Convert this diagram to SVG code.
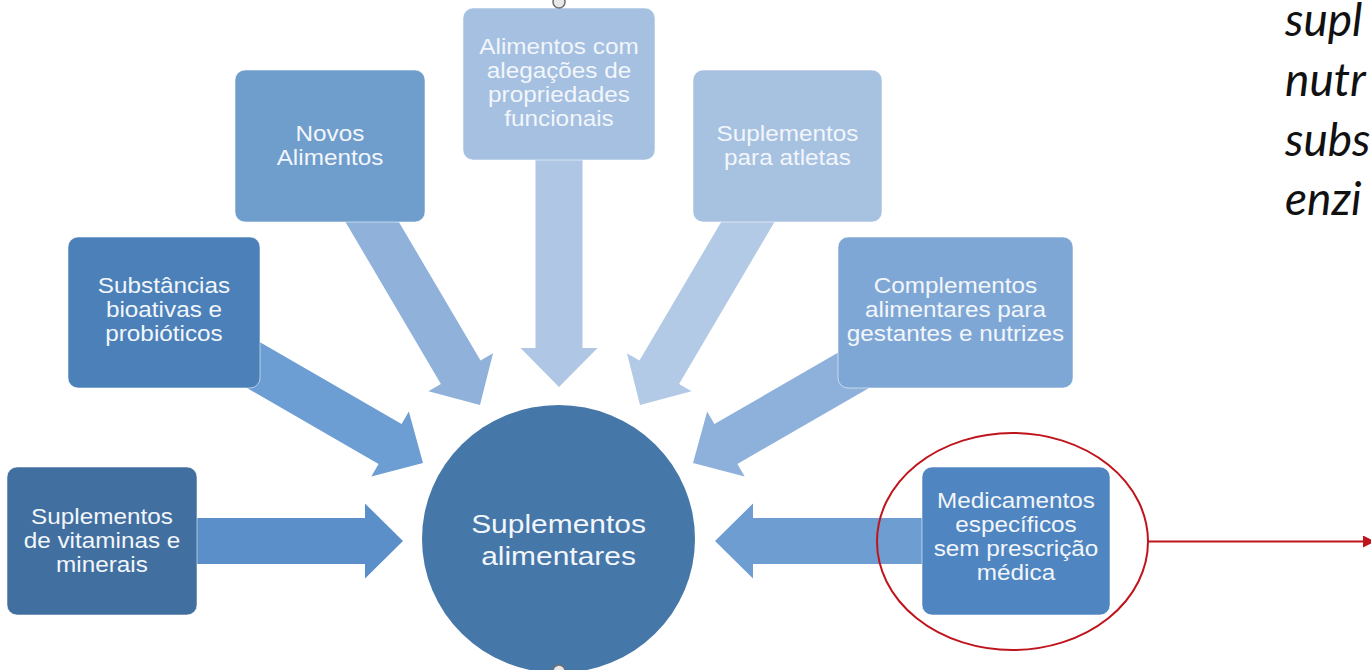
<svg xmlns="http://www.w3.org/2000/svg" width="1371" height="670" viewBox="0 0 1371 670">
<defs>
<style>
.lbl{font-family:"Liberation Sans",Arial,sans-serif;font-size:21.5px;fill:#f2f6fb;text-anchor:middle}
.big{font-size:26.5px}
.bx{stroke:#ffffff;stroke-opacity:0.55;stroke-width:1}
.side{font-family:Lato,"Open Sans",sans-serif;font-style:italic;font-size:46px;fill:#111111}
.handle{fill:#e8e8e8;stroke:#6f6f6f;stroke-width:1.5}
.red{fill:none;stroke:#c0141c;stroke-width:2}
</style>
<marker id="redhead" markerUnits="userSpaceOnUse" markerWidth="12" markerHeight="12" refX="0" refY="6" orient="auto">
<path d="M0,0 L12,6 L0,12 Z" fill="#c0141c"/>
</marker>
</defs>
<rect width="1371" height="670" fill="#ffffff"/>

<g id="connectors">
<path transform="translate(403,541) rotate(0)" d="M-210,-23 H-38 V-37.5 L0,0 L-38,37.5 V23 H-210 Z" fill="#5b8fca"/>
<path transform="translate(423,463) rotate(30)" d="M-210,-23 H-38 V-37.5 L0,0 L-38,37.5 V23 H-210 Z" fill="#6c9dd3"/>
<path transform="translate(480,405) rotate(59.5)" d="M-230,-23 H-38 V-37.5 L0,0 L-38,37.5 V23 H-230 Z" fill="#8fb1da"/>
<path transform="translate(559,387) rotate(90)" d="M-232,-23.5 H-39 V-38.5 L0,0 L-39,38.5 V23.5 H-232 Z" fill="#afc7e5"/>
<path transform="translate(640,405) rotate(120.5)" d="M-230,-23 H-38 V-37.5 L0,0 L-38,37.5 V23 H-230 Z" fill="#b3cae6"/>
<path transform="translate(693,463) rotate(150)" d="M-200,-23 H-38 V-37.5 L0,0 L-38,37.5 V23 H-200 Z" fill="#8eb1dc"/>
<path transform="translate(715,541) rotate(180)" d="M-215,-23 H-38 V-37.5 L0,0 L-38,37.5 V23 H-215 Z" fill="#6e9dd2"/>
<line class="red" x1="1148" y1="541.5" x2="1363" y2="541.5" marker-end="url(#redhead)"/>
</g>

<g id="n-vitaminas">
<rect class="bx" x="7" y="467" width="190" height="148" rx="10" fill="#416f9f"/>
<text class="lbl" transform="translate(102,0) scale(1.13,1)"><tspan x="0" y="524">Suplementos</tspan><tspan x="0" y="548">de vitaminas e</tspan><tspan x="0" y="572">minerais</tspan></text>
</g>

<g id="n-substancias">
<rect class="bx" x="68" y="237" width="192" height="151" rx="10" fill="#4b80b8"/>
<text class="lbl" transform="translate(164,0) scale(1.13,1)"><tspan x="0" y="293">Substâncias</tspan><tspan x="0" y="317">bioativas e</tspan><tspan x="0" y="341">probióticos</tspan></text>
</g>

<g id="n-novos">
<rect class="bx" x="235" y="70" width="190" height="152" rx="10" fill="#6f9dcc"/>
<text class="lbl" transform="translate(330,0) scale(1.13,1)"><tspan x="0" y="141">Novos</tspan><tspan x="0" y="165">Alimentos</tspan></text>
</g>

<g id="n-alegacoes">
<rect class="bx" x="463" y="8" width="192" height="152" rx="10" fill="#a5c0e1"/>
<text class="lbl" transform="translate(559,0) scale(1.13,1)"><tspan x="0" y="54">Alimentos com</tspan><tspan x="0" y="78">alegações de</tspan><tspan x="0" y="102">propriedades</tspan><tspan x="0" y="126">funcionais</tspan></text>
<circle class="handle" cx="559" cy="2" r="6"/>
</g>

<g id="n-atletas">
<rect class="bx" x="693" y="70" width="189" height="152" rx="10" fill="#a7c1e1"/>
<text class="lbl" transform="translate(787.5,0) scale(1.13,1)"><tspan x="0" y="141">Suplementos</tspan><tspan x="0" y="165">para atletas</tspan></text>
</g>

<g id="n-complementos">
<rect class="bx" x="838" y="237" width="235" height="151" rx="10" fill="#7fa7d5"/>
<text class="lbl" transform="translate(955.5,0) scale(1.13,1)"><tspan x="0" y="293">Complementos</tspan><tspan x="0" y="317">alimentares para</tspan><tspan x="0" y="341">gestantes e nutrizes</tspan></text>
</g>

<g id="n-medicamentos">
<rect class="bx" x="922" y="467" width="188" height="148" rx="10" fill="#4f85c0"/>
<text class="lbl" transform="translate(1016,0) scale(1.13,1)"><tspan x="0" y="508">Medicamentos</tspan><tspan x="0" y="532">específicos</tspan><tspan x="0" y="556">sem prescrição</tspan><tspan x="0" y="580">médica</tspan></text>
<ellipse class="red" cx="1012.5" cy="541.5" rx="135.5" ry="108.5"/>
</g>

<g id="n-centro">
<ellipse cx="558.5" cy="539" rx="136.5" ry="134" fill="#4677a9"/>
<text class="lbl big" transform="translate(558.5,0) scale(1.13,1)"><tspan x="0" y="533">Suplementos</tspan><tspan x="0" y="565">alimentares</tspan></text>
<circle class="handle" cx="559" cy="671" r="6"/>
</g>

<g id="side-text">
<text class="side" x="1285" y="36">supl</text>
<text class="side" x="1285" y="96">nutr</text>
<text class="side" x="1285" y="156">subs</text>
<text class="side" x="1285" y="215">enzi</text>
</g>
</svg>
